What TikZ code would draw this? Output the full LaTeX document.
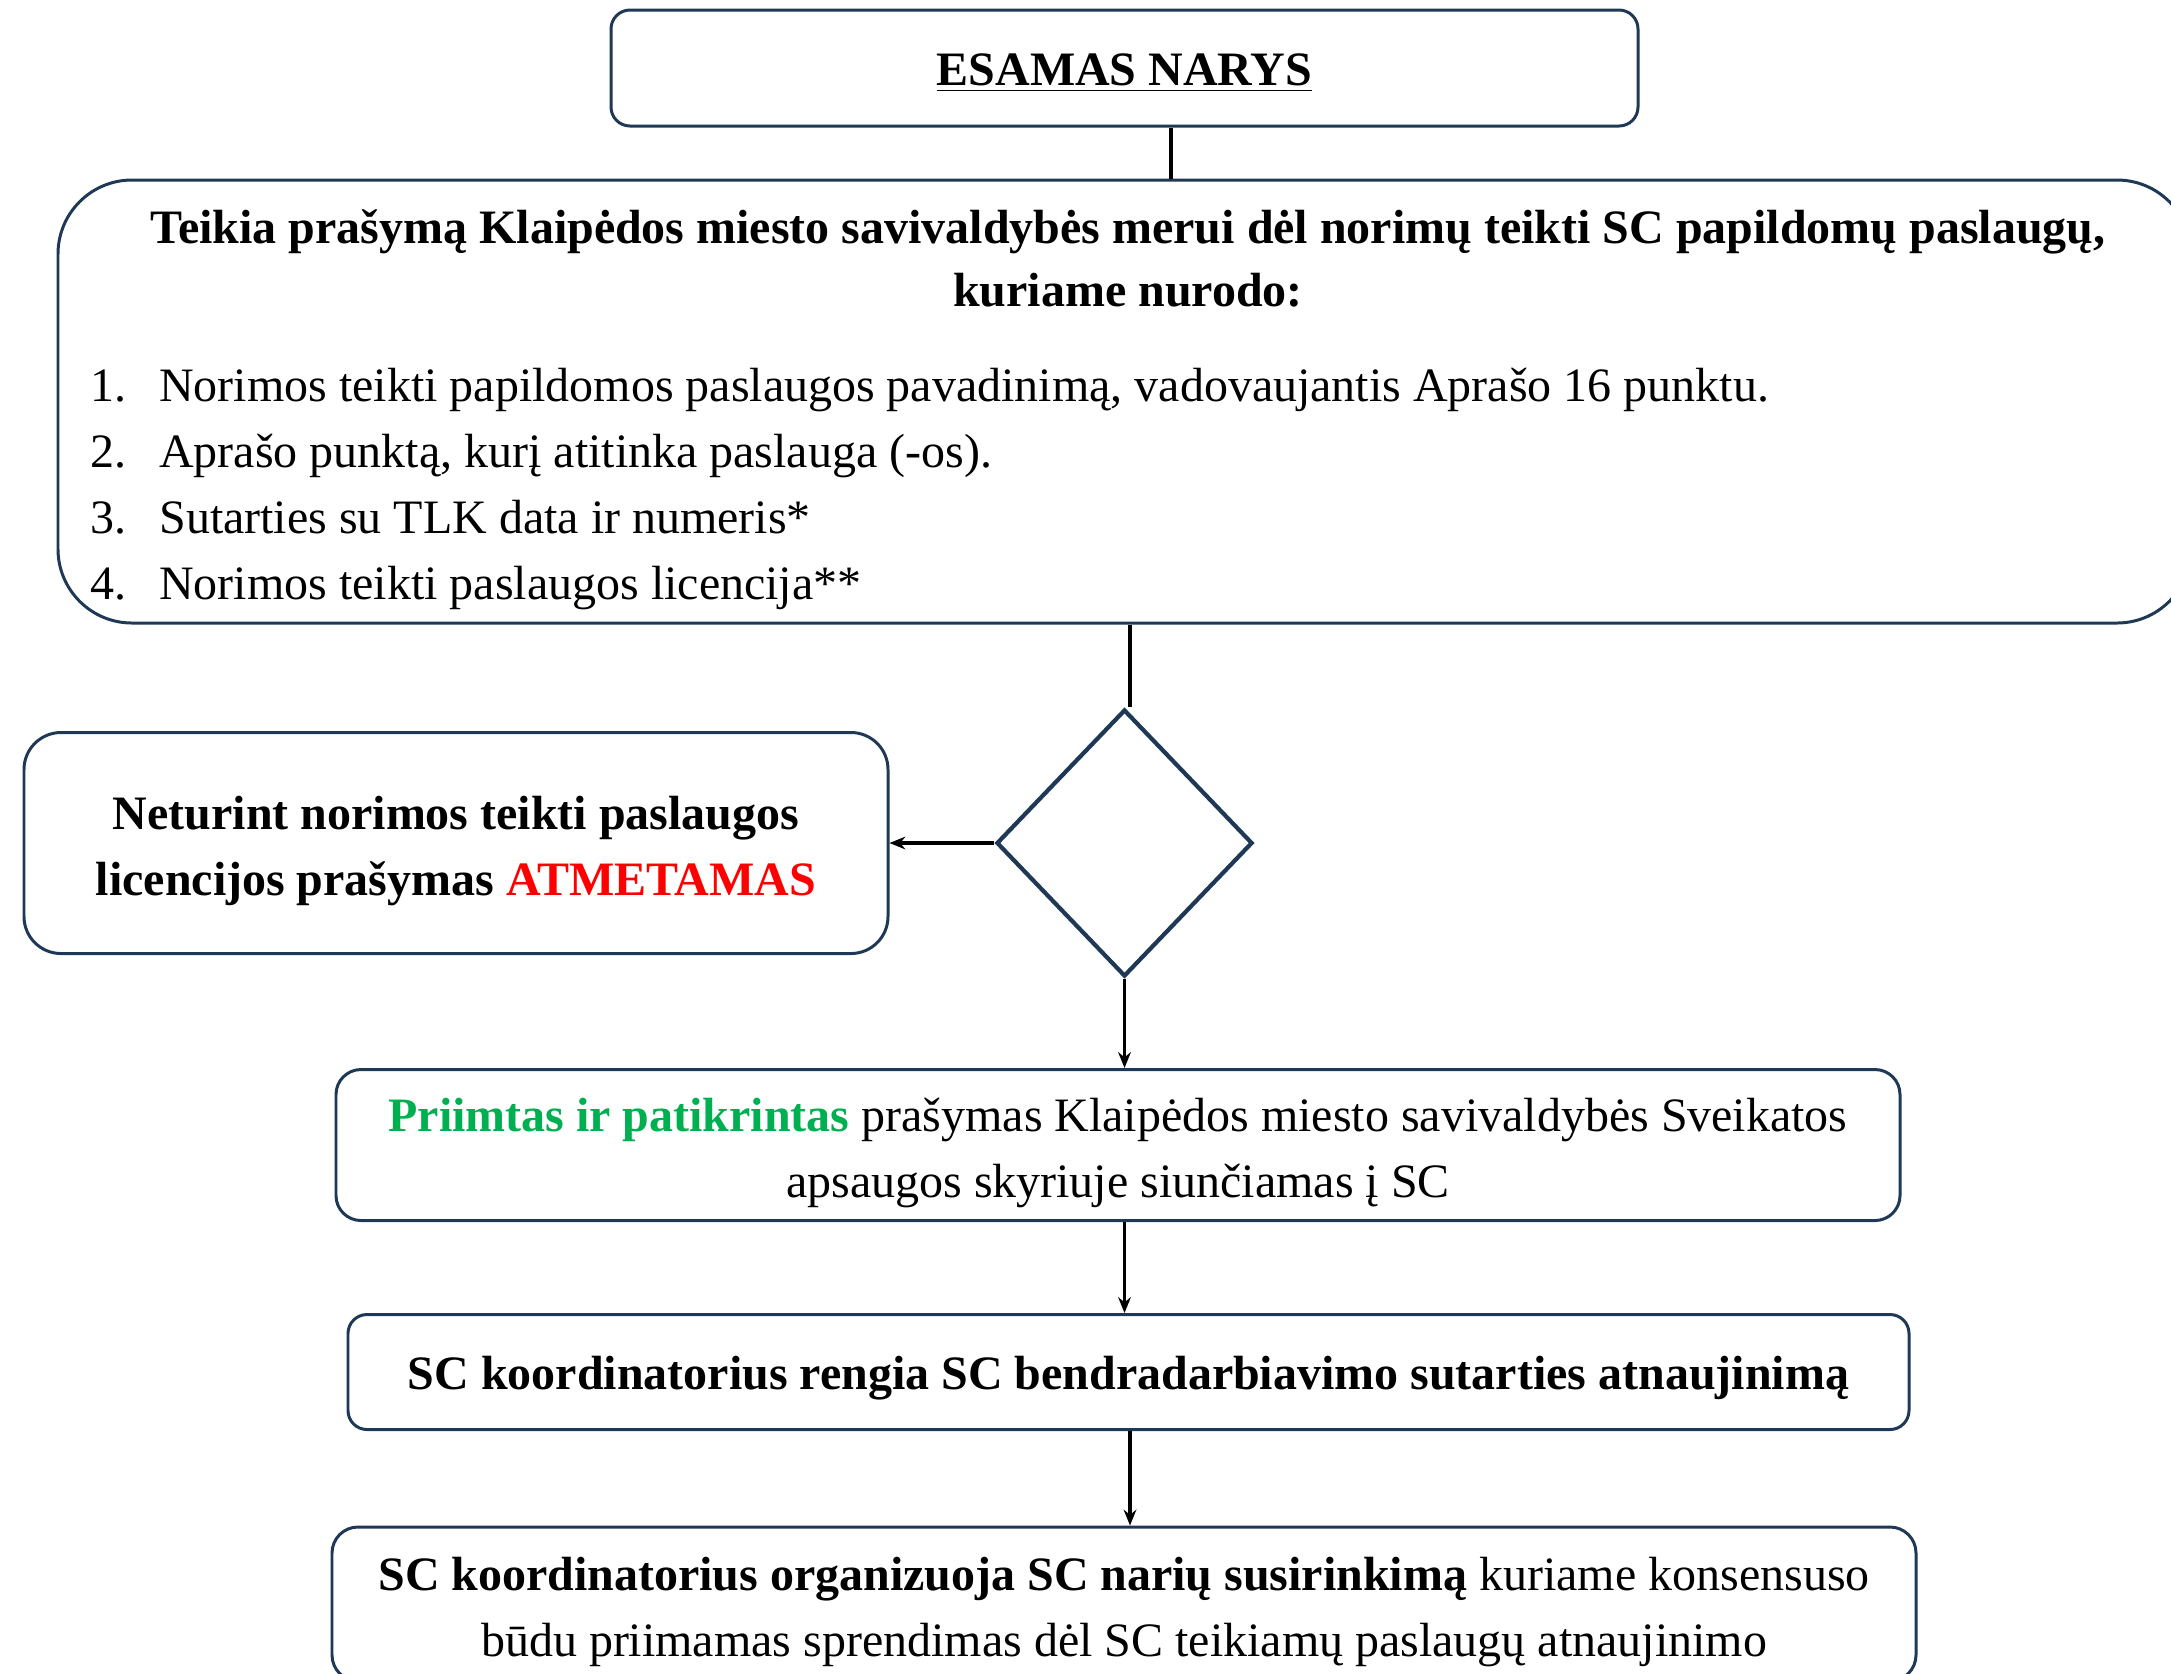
\documentclass[tikz,border=0pt]{standalone}
\usepackage{fontspec}
\setmainfont{Liberation Serif}
\usepackage{tikz}
\usetikzlibrary{arrows.meta,positioning,shapes.geometric}
\definecolor{remelis}{RGB}{31,56,86}
\definecolor{zalia}{RGB}{0,176,80}
\definecolor{raudona}{RGB}{255,0,0}

\begin{document}
\fontsize{13.65}{18.8}\selectfont
\begin{tikzpicture}[>={Stealth[length=4.5pt,width=3.6pt]},on grid,line width=1.05pt,
    dezute/.style={draw=remelis,line width=0.85pt,rounded corners=#1,align=center,inner sep=0pt},
    vienaeile/.style={text height=0.36cm,text depth=0.02cm},
    dvieiles/.style={text height=1.12cm,text depth=0.07cm},
    sprendimas/.style={diamond,draw=remelis,line width=1.2pt,minimum width=2.56cm,
      minimum height=2.67cm,inner sep=0pt},
    tekstas/.style={inner sep=0pt}]
  \clip (0,0) rectangle (21.71,-16.73);
  \node[dezute=0.19cm,vienaeile,minimum width=10.27cm,minimum height=1.16cm,font=\bfseries]
    (esamas) at (11.245,-0.68) {\underline{ESAMAS NARYS}};
  \node[dezute=0.74cm,minimum width=21.33cm,minimum height=4.43cm]
    (prasymas) [below=3.335 of esamas] {};
  % prasymo tekstas
  \node[tekstas,font=\bfseries,anchor=base] (antraste1) at ([xshift=0.035cm,yshift=-0.65cm]prasymas.north)
    {Teikia prašymą Klaipėdos miesto savivaldybės merui dėl norimų teikti SC papildomų paslaugų,};
  \node[tekstas,font=\bfseries,anchor=base] (antraste2) at ([yshift=-0.63cm]antraste1.base)
    {kuriame nurodo:};
  \node[tekstas,anchor=base west] (punktas1) at ([xshift=0.32cm,yshift=-2.23cm]prasymas.north west)
    {\makebox[0.69cm][l]{1.}Norimos teikti papildomos paslaugos pavadinimą, vadovaujantis Aprašo 16 punktu.};
  \node[tekstas,anchor=base west] (punktas2) at ([yshift=-0.66cm]punktas1.base west)
    {\makebox[0.69cm][l]{2.}Aprašo punktą, kurį atitinka paslauga (-os).};
  \node[tekstas,anchor=base west] (punktas3) at ([yshift=-0.66cm]punktas2.base west)
    {\makebox[0.69cm][l]{3.}Sutarties su TLK data ir numeris*};
  \node[tekstas,anchor=base west] (punktas4) at ([yshift=-0.66cm]punktas3.base west)
    {\makebox[0.69cm][l]{4.}Norimos teikti paslaugos licencija**};
  \node[sprendimas] (patikra) [below=4.415 of prasymas] {};
  \node[dezute=0.37cm,dvieiles,minimum width=8.64cm,minimum height=2.21cm,font=\bfseries]
    (atmetamas) [left=6.685 of patikra]
    {Neturint norimos teikti paslaugos\\licencijos prašymas \textcolor{raudona}{ATMETAMAS}};
  \node[dezute=0.25cm,dvieiles,minimum width=15.64cm,minimum height=1.51cm]
    (priimtas) [below=3.02 of patikra,xshift=-0.065cm]
    {\textcolor{zalia}{\textbf{Priimtas ir patikrintas}} prašymas Klaipėdos miesto savivaldybės Sveikatos\\
     apsaugos skyriuje siunčiamas į SC};
  \node[dezute=0.19cm,vienaeile,minimum width=15.61cm,minimum height=1.15cm,font=\bfseries]
    (rengia) [below=2.27 of priimtas,xshift=0.105cm]
    {SC koordinatorius rengia SC bendradarbiavimo sutarties atnaujinimą};
  \node[dezute=0.26cm,dvieiles,minimum width=15.84cm,minimum height=1.54cm]
    (organizuoja) [below=2.32 of rengia,xshift=-0.045cm]
    {\textbf{SC koordinatorius organizuoja SC narių susirinkimą} kuriame konsensuso\\
     būdu priimamas sprendimas dėl SC teikiamų paslaugų atnaujinimo};
  % jungtys
  \draw ([xshift=0.465cm]esamas.south) -- ([xshift=0.465cm]prasymas.north);
  \draw ([xshift=0.055cm]prasymas.south) -- ([xshift=0.055cm]prasymas.south |- patikra.north);
  \draw[->] (patikra.west) -- (atmetamas.east);
  \draw[->] (patikra.south) -- (patikra.south |- priimtas.north);
  \draw[->] (patikra.south |- priimtas.south) -- (patikra.south |- rengia.north);
  \draw[->] ([xshift=0.055cm]patikra.south |- rengia.south) -- ([xshift=0.055cm]patikra.south |- organizuoja.north);
\end{tikzpicture}
\end{document}
